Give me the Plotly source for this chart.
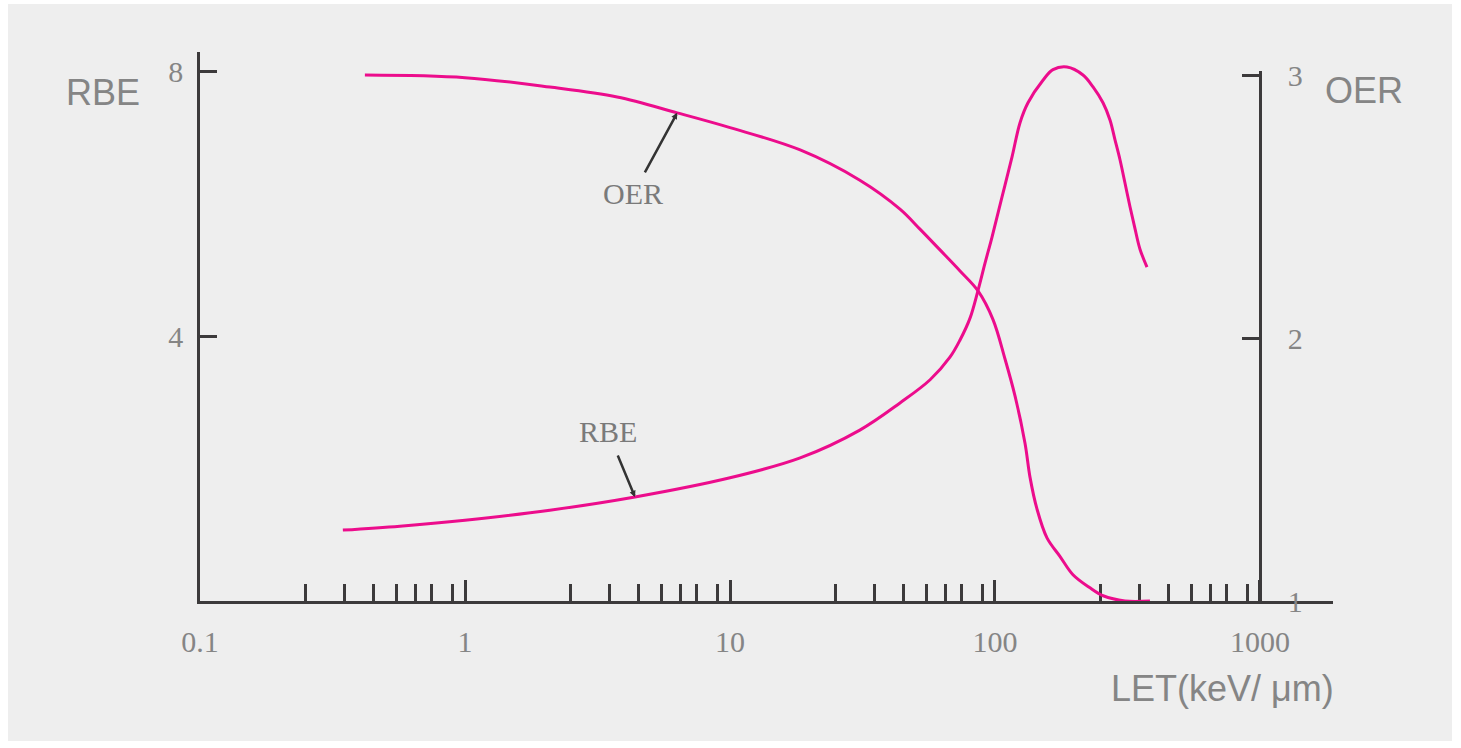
import numpy as np
import plotly.graph_objects as go

# LET (keV/um) and relative biological effectiveness
rbe_let = [0.346, 0.568, 1.0, 2.09, 4.38, 10.0, 18.4, 30.9, 43.8, 56.9, 67.6, 73.8,
           80.5, 86.3, 91.7, 97.4, 106.3, 115.9, 124.3, 133.2, 151.7, 165.5, 186.9,
           214.8, 234.4, 255.6, 271.6, 283.7, 296.3, 309.4, 323.2, 337.5, 352.5, 374.6]
rbe_val = [1.07, 1.13, 1.22, 1.37, 1.57, 1.86, 2.16, 2.58, 2.99, 3.34, 3.68, 3.94,
           4.27, 4.69, 5.10, 5.49, 6.10, 6.70, 7.22, 7.52, 7.86, 8.02, 8.06,
           7.94, 7.76, 7.52, 7.26, 6.96, 6.66, 6.31, 5.95, 5.62, 5.31, 5.04]

# LET (keV/um) and oxygen enhancement ratio
oer_let = [0.419, 1.0, 2.09, 3.75, 6.32, 10.0, 18.4, 30.9, 43.8, 52.1, 62.0, 73.8,
           86.3, 98.3, 109.1, 119.0, 129.8, 135.6, 144.0, 157.1, 175.8, 196.9,
           228.4, 255.9, 309.6, 384.5]
oer_val = [3.0, 2.99, 2.954, 2.916, 2.856, 2.80, 2.715, 2.60, 2.49, 2.414, 2.335, 2.255,
           2.179, 2.07, 1.92, 1.78, 1.60, 1.47, 1.35, 1.24, 1.17, 1.10,
           1.05, 1.02, 1.0, 1.0]

x_tick_vals = [0.1, 1, 10, 100, 1000]
x_tick_text = ["0.1", "1", "10", "100", "1000"]
minor_factors = [2.5, 3.5, 4.5, 5.5, 6.5, 7.5, 9.0]
decades = [0.1, 1, 10, 100]
minor_vals = [d * f for d in decades for f in minor_factors]

rbe_ticks = [4, 8]
oer_ticks = [1, 2, 3]

# points on each curve that the in-plot labels point to
oer_label_idx = 4
rbe_label_idx = 4

PINK = "#ec0c8c"
AXIS = "#3c3a3b"
GREY_TXT = "#858585"
BG = "#eeeeee"
SERIF = "Liberation Serif, Times New Roman, serif"
SANS = "Liberation Sans Narrow, Arial Narrow, Liberation Sans, Arial, sans-serif"

fig = go.Figure()
fig.add_trace(go.Scatter(x=rbe_let, y=rbe_val, mode="lines",
                         line=dict(color=PINK, width=3, shape="spline", smoothing=1.0),
                         xaxis="x", yaxis="y", showlegend=False, hoverinfo="skip"))
fig.add_trace(go.Scatter(x=oer_let, y=oer_val, mode="lines",
                         line=dict(color=PINK, width=3, shape="spline", smoothing=1.0),
                         xaxis="x", yaxis="y2", showlegend=False, hoverinfo="skip"))

L, R, T, B = 200, 128, 52, 147
W, H = 1461, 748
pw, ph = W - L - R, H - T - B


def px_x(p):
    return (p - L) / pw


def px_y(p):
    return (H - B - p) / ph


tick_font = dict(family=SERIF, size=30, color=GREY_TXT)

fig.update_layout(
    width=W, height=H,
    margin=dict(l=L, r=R, t=T, b=B, pad=0),
    paper_bgcolor="white",
    plot_bgcolor="rgba(0,0,0,0)",
    xaxis=dict(
        type="log", range=[-1, 3.2755],
        tickmode="array", tickvals=x_tick_vals, ticktext=x_tick_text,
        ticks="inside", ticklen=21, tickwidth=2.5, tickcolor=AXIS,
        minor=dict(tickmode="array", tickvals=minor_vals, ticks="inside", ticklen=17,
                   tickwidth=2.5, tickcolor=AXIS, showgrid=False),
        showline=True, linecolor=AXIS, linewidth=2.5,
        showgrid=False, zeroline=False,
        tickfont=tick_font, ticklabelstandoff=12,
        anchor="y",
    ),
    yaxis=dict(
        range=[0, ph / 66.25],
        tickmode="array", tickvals=rbe_ticks,
        ticks="inside", ticklen=17, tickwidth=2.5, tickcolor=AXIS,
        showline=True, linecolor=AXIS, linewidth=2.5,
        showgrid=False, zeroline=False,
        tickfont=tick_font, ticklabelstandoff=8,
        domain=[0, 1],
    ),
    # OER axis: 1 on the baseline, 263 px per unit, axis ending just above 3
    yaxis2=dict(
        range=[1, 1 + 530 / 263],
        domain=[0, 530 / ph],
        anchor="free", position=px_x(1260), side="right",
        tickmode="array", tickvals=oer_ticks,
        ticks="inside", ticklen=17, tickwidth=2.5, tickcolor=AXIS,
        showline=True, linecolor=AXIS, linewidth=2.5,
        showgrid=False, zeroline=False,
        tickfont=tick_font, ticklabelstandoff=20,
    ),
)

# grey panel behind the chart
fig.add_shape(type="rect", xref="paper", yref="paper",
              x0=px_x(8), x1=px_x(1452), y0=px_y(741), y1=px_y(4),
              fillcolor=BG, line=dict(width=0), layer="below")

# axis titles
title_font = dict(family=SANS, size=36, color=GREY_TXT)
fig.add_annotation(text="RBE", xref="paper", yref="paper", x=px_x(103), y=px_y(92),
                   showarrow=False, font=title_font, xanchor="center", yanchor="middle")
fig.add_annotation(text="OER", xref="paper", yref="paper", x=px_x(1364), y=px_y(90),
                   showarrow=False, font=title_font, xanchor="center", yanchor="middle")
fig.add_annotation(text="LET(keV/ μm)", xref="paper", yref="paper", x=px_x(1222), y=px_y(688),
                   showarrow=False, font=title_font, xanchor="center", yanchor="middle")

# curve labels with pointers
label_font = dict(family=SERIF, size=30, color="#7a7a7a")
fig.add_annotation(text="OER", xref="x", yref="y2",
                   x=np.log10(oer_let[oer_label_idx]), y=oer_val[oer_label_idx],
                   ax=-44, ay=81, showarrow=True, arrowhead=2, arrowsize=0.5,
                   arrowwidth=2.5, arrowcolor="#333333", standoff=0, startstandoff=4,
                   font=label_font)
fig.add_annotation(text="RBE", xref="x", yref="y",
                   x=np.log10(rbe_let[rbe_label_idx]), y=rbe_val[rbe_label_idx],
                   ax=-27, ay=-65, showarrow=True, arrowhead=2, arrowsize=0.5,
                   arrowwidth=2.5, arrowcolor="#333333", standoff=0, startstandoff=6,
                   font=label_font)

fig.write_html("out.html")
